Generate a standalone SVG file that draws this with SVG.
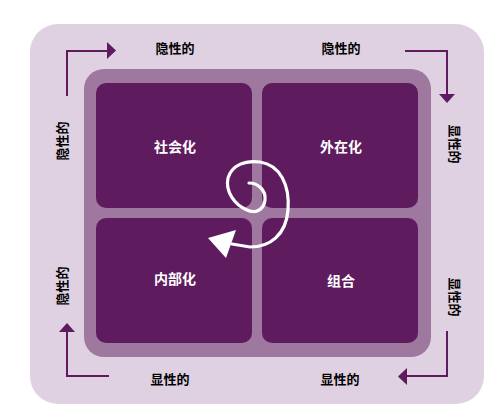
<svg xmlns="http://www.w3.org/2000/svg" width="499" height="419" viewBox="0 0 499 419">
<style>
.lbl{font-family:"Noto Sans CJK SC","Liberation Sans",sans-serif;font-size:13px;font-weight:bold;fill:#000;text-anchor:middle;dominant-baseline:central}
.q{fill:#5e1c5e}
.qt{font-family:"Noto Sans CJK SC","Liberation Sans",sans-serif;font-size:14px;font-weight:bold;fill:#fff;text-anchor:middle;dominant-baseline:central}
.ar{fill:none;stroke:#5e1c5e;stroke-width:2}
.ah{fill:#5e1c5e}
</style>
<rect x="0" y="0" width="499" height="419" fill="#fff"/>
<g id="background">
<rect x="30" y="24" width="454" height="380" rx="28" fill="#dfd1e1"/>
<rect x="84" y="69" width="347" height="288" rx="20" fill="#9e789e"/>
</g>
<g id="socialization"><rect class="q" x="96" y="83" width="156" height="125" rx="10"/><text class="qt" x="175" y="146">社会化</text></g>
<g id="externalization"><rect class="q" x="262" y="83" width="156" height="125" rx="10"/><text class="qt" x="341" y="146">外在化</text></g>
<g id="internalization"><rect class="q" x="96" y="218" width="156" height="125" rx="10"/><text class="qt" x="175" y="278">内部化</text></g>
<g id="combination"><rect class="q" x="262" y="218" width="156" height="125" rx="10"/><text class="qt" x="341" y="280">组合</text></g>
<g id="connectors">
<path class="ar" d="M67,96 V51 H107"/>
<polygon class="ah" points="107,42 116,50.5 107,59"/>
<path class="ar" d="M405,51 H447 V94"/>
<polygon class="ah" points="439,94 455,94 447,103"/>
<path class="ar" d="M447,331 V376 H407"/>
<polygon class="ah" points="407,368 407,385 398,376.5"/>
<path class="ar" d="M109,376 H67 V332"/>
<polygon class="ah" points="59,332 75,332 67,323"/>
<path d="M249,183 C258,183 266,190 265,200 C264,210 255,214 247,210 C235,205 225,192 228,178 C232,165 245,160 260,162 C280,165 290,185 288,210 C286,235 270,247 250,247 L232,244" fill="none" stroke="#fff" stroke-width="3.2" stroke-linecap="round"/>
<polygon points="208,238 236,230 226,258" fill="#fff"/>
</g>
<g id="labels">
<text class="lbl" x="175" y="47">隐性的</text>
<text class="lbl" x="341" y="47">隐性的</text>
<text class="lbl" x="170" y="378">显性的</text>
<text class="lbl" x="340" y="378">显性的</text>
<text class="lbl" transform="translate(61,141) rotate(-90)">隐性的</text>
<text class="lbl" transform="translate(61,286) rotate(-90)">隐性的</text>
<text class="lbl" transform="translate(455,144) rotate(90)">显性的</text>
<text class="lbl" transform="translate(455,297) rotate(90)">显性的</text>
</g>
</svg>
